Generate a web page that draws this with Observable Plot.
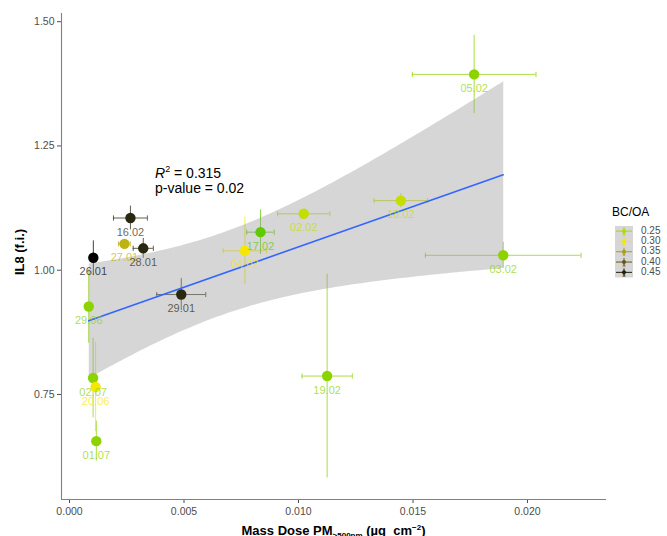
<!DOCTYPE html>
<html><head><meta charset="utf-8">
<script src="https://cdn.jsdelivr.net/npm/d3@7"></script>
<script src="https://cdn.jsdelivr.net/npm/@observablehq/plot@0.6"></script>
<style>
body{margin:0;background:#fff;}
#wrap{position:relative;width:667px;height:536px;overflow:hidden;font-family:"Liberation Sans",Arial,sans-serif;background:#fff;}
#wrap svg{position:absolute;left:0;top:0;}
</style></head><body><div id="wrap"></div>
<script>
// ---- data ----
const labels     = ["05.02","03.02","18.02","02.02","17.02","04.02","19.02","29.01","16.02","27.01","28.01","26.01","29.06","02.07","20.06","01.07"];
const massDose   = [0.01767,0.01894,0.01447,0.01023,0.00834,0.00766,0.01125,0.00488,0.00266,0.00240,0.00322,0.00104,0.00084,0.00103,0.00114,0.00117];
const massDoseSd = [0.0027,0.0034,0.00117,0.00114,0.0006,0.00095,0.0011,0.00107,0.00074,0.00026,0.00044,0,0.0001,0,0,0];
const il8        = [1.394,1.030,1.140,1.1135,1.0765,1.039,0.787,0.951,1.105,1.053,1.044,1.025,0.927,0.783,0.765,0.656];
const il8Sd      = [0.0785,0.026,0.014,0.004,0.045,0.068,0.205,0.032,0.024,0.006,0.02,0.034,0.074,0.08,0.09,0.04];
const bcoa       = [0.23,0.23,0.265,0.265,0.205,0.30,0.23,0.44,0.44,0.335,0.44,0.47,0.23,0.23,0.30,0.23];
const xTicks = [0, 0.005, 0.010, 0.015, 0.020];
const yTicks = [0.75, 1.00, 1.25, 1.50];
const xDomain = [-0.00035, 0.02345];
const yDomain = [0.5386, 1.5165];
const colorStops = [0.20, 0.30, 0.47];
const colorRange = ["#55c800", "#f5e800", "#000000"];
const legendValues = [0.25, 0.30, 0.35, 0.40, 0.45];
const annotation = {r2: "0.315", p: "0.02"};

const data = labels.map((label, i) => ({label, x: massDose[i], xe: massDoseSd[i], y: il8[i], ye: il8Sd[i], b: bcoa[i]}));
const caps = data.filter(d => d.xe > 0).flatMap(d => [{...d, xc: d.x - d.xe}, {...d, xc: d.x + d.xe}]);
const vbar = {draw(ctx, size) { const h = Math.sqrt(size / Math.PI); ctx.moveTo(0, -h); ctx.lineTo(0, h); }};

const font = '"Liberation Sans", Arial, sans-serif';
const plot = Plot.plot({
  width: 667, height: 536,
  marginLeft: 61, marginRight: 61, marginTop: 13, marginBottom: 37,
  style: {fontFamily: font, background: "white", overflow: "visible"},
  x: {domain: xDomain},
  y: {domain: yDomain},
  color: {type: "linear", domain: colorStops, range: colorRange, interpolate: "lab"},
  marks: [
    Plot.axisX({ticks: xTicks, tickFormat: d3.format(".3f"), tickSize: 4, tickPadding: 4, fontSize: 10.5, color: "#4d4d4d", label: null}),
    Plot.axisY({ticks: yTicks, tickFormat: d3.format(".2f"), tickSize: 4, tickPadding: 3, fontSize: 10.5, color: "#4d4d4d", label: null}),
    Plot.ruleX([xDomain[0]], {stroke: "#808080", strokeWidth: 1.1}),
    Plot.ruleY([yDomain[0]], {stroke: "#808080", strokeWidth: 1.1}),
    Plot.ruleY(data.filter(d => d.xe > 0), {y: "y", x1: d => d.x - d.xe, x2: d => d.x + d.xe, stroke: "b", strokeWidth: 1, strokeOpacity: 0.75}),
    Plot.ruleX(data, {x: "x", y1: d => d.y - d.ye, y2: d => d.y + d.ye, stroke: "b", strokeWidth: 1, strokeOpacity: 0.75}),
    Plot.dot(caps, {x: "xc", y: "y", symbol: vbar, r: 2.6, stroke: "b", fill: "none", strokeWidth: 1, strokeOpacity: 0.75}),
    Plot.linearRegressionY(data, {x: "x", y: "y", ci: 0.95, stroke: "#3366FF", strokeWidth: 1.6, fill: "#999999", fillOpacity: 0.4}),
    Plot.dot(data, {x: "x", y: "y", r: 5.2, fill: "b", stroke: "none"}),
    Plot.text(data, {x: "x", y: "y", text: "label", dy: 14, fill: "b", fillOpacity: 0.72, fontSize: 11})
  ]
});
document.getElementById("wrap").appendChild(plot);

const svg = d3.select(plot);
// axis titles
svg.append("text").attr("transform", "translate(21,252) rotate(-90)").attr("text-anchor", "middle")
  .attr("dominant-baseline", "middle").style("font", `bold 13px ${font}`).attr("fill", "#000").text("IL8 (f.i.)");
const xt = svg.append("text").attr("x", 333.5).attr("y", 534.5).attr("text-anchor", "middle")
  .style("font", `bold 13px ${font}`).attr("fill", "#000");
xt.append("tspan").text("Mass Dose PM");
xt.append("tspan").attr("dy", 3).style("font-size", "8px").text(">500nm");
xt.append("tspan").attr("dy", -3).text(" (µg  cm");
xt.append("tspan").attr("dy", -5).style("font-size", "8px").text("−2");
xt.append("tspan").attr("dy", 5).text(")");
// annotation
const a1 = svg.append("text").attr("x", 155).attr("y", 178).attr("text-anchor", "start").style("font", `14px ${font}`).attr("fill", "#000");
a1.append("tspan").style("font-style", "italic").text("R");
a1.append("tspan").attr("dy", -6).style("font-size", "9px").text("2");
a1.append("tspan").attr("dy", 6).text(" = " + annotation.r2);
svg.append("text").attr("x", 155).attr("y", 193).attr("text-anchor", "start").style("font", `14px ${font}`).attr("fill", "#000").text("p-value = " + annotation.p);

// legend
const color = plot.scale("color");
const leg = d3.select("#wrap").append("svg").attr("width", 60).attr("height", 90)
  .style("left", "606px").style("top", "198px");
leg.append("text").attr("x", 6).attr("y", 18).style("font", `12px ${font}`).attr("fill", "#000").text("BC/OA");
const rowH = 10.3, top0 = 28;
leg.append("rect").attr("x", 9).attr("y", top0).attr("width", 18).attr("height", rowH * legendValues.length).attr("fill", "#d6d6d6");
legendValues.forEach((v, i) => {
  const c = color.apply(v), cy = top0 + rowH * (i + 0.5);
  const g = leg.append("g");
  g.append("line").attr("x1", 10).attr("x2", 26).attr("y1", cy).attr("y2", cy).attr("stroke", c).attr("stroke-width", 1);
  g.append("line").attr("x1", 18).attr("x2", 18).attr("y1", cy - 4).attr("y2", cy + 4).attr("stroke", c).attr("stroke-width", 1);
  g.append("circle").attr("cx", 18).attr("cy", cy).attr("r", 2).attr("fill", c);
  g.append("text").attr("x", 18).attr("y", cy + 4.5).attr("text-anchor", "middle").style("font", `6px ${font}`).attr("fill", c).attr("fill-opacity", 0.7).text("a");
  leg.append("text").attr("x", 35).attr("y", cy).attr("dominant-baseline", "middle").style("font", `10px ${font}`).attr("fill", "#4d4d4d").text(d3.format(".2f")(v));
});
</script></body></html>
